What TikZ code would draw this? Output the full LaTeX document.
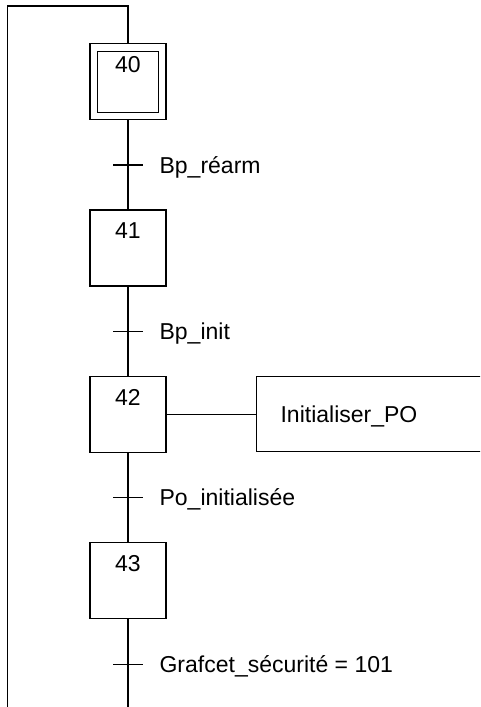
\documentclass[tikz,border=0pt]{standalone}
\usepackage{fontspec}
\setmainfont{Liberation Sans}
\begin{document}
\begin{tikzpicture}[x=1pt,y=-1pt,line width=1.2pt,
  stepbox/.style={draw,rectangle,minimum width=76pt,minimum height=76pt,inner sep=0pt,outer sep=0pt},
  initbox/.style={draw,rectangle,minimum width=61pt,minimum height=61pt,inner sep=0pt,outer sep=0pt},
  actionbox/.style={draw,rectangle,minimum width=240pt,minimum height=75pt,inner sep=0pt,outer sep=0pt},
  txt/.style={inner sep=0pt,font=\fontsize{23}{27}\selectfont},
  num/.style={txt,anchor=base},
  cond/.style={txt,anchor=base west},
  tickmark/.style={line width=1.2pt}]
\useasboundingbox (0,0) rectangle (480,707);
\clip (0,0) rectangle (480,707);

% steps
\node[stepbox] (s40) at (128,81.2) {};
\node[initbox] (s40i) at (128,81.8) {};
\node[stepbox] (s41) at (128,248) {};
\node[stepbox] (s42) at (128,414.2) {};
\node[stepbox] (s43) at (128,580.5) {};

% step numbers
\node[num] (n40) at (128,72.5) {40};
\node[num] (n41) at (128,238.5) {41};
\node[num] (n42) at (128,405) {42};
\node[num] (n43) at (128,571.5) {43};

% action of step 42
\node[actionbox] (a42) at (376.7,414.2) {};
\node[cond] (a42t) at (280,422.7) {Initialiser\_PO};
\draw (s42.east) -- (a42.west);

% transitions
\coordinate (t1) at (128,165);
\coordinate (t2) at (128,331.5);
\coordinate (t3) at (128,497.5);
\coordinate (t4) at (128,664.3);
\foreach \t in {t1,t2,t3,t4}
  \draw[tickmark] ([xshift=-15pt]\t) -- ([xshift=15pt]\t);
\node[cond] (c1) at (159,173) {Bp\_réarm};
\node[cond] (c2) at (159,339.5) {Bp\_init};
\node[cond] (c3) at (159,505.5) {Po\_initialisée};
\node[cond] (c4) at (159,672.3) {Grafcet\_sécurité = 101};

% links between steps
\draw (s40.south) -- (s41.north);
\draw (s41.south) -- (s42.north);
\draw (s42.south) -- (s43.north);
\coordinate (bot) at (128,707);
\draw (s43.south) -- (bot);

% loop back to the initial step
\coordinate (top) at (128,6);
\coordinate (loopend) at (7.3,707);
\draw (s40.north) -- (top) -| (loopend);
\end{tikzpicture}
\end{document}
